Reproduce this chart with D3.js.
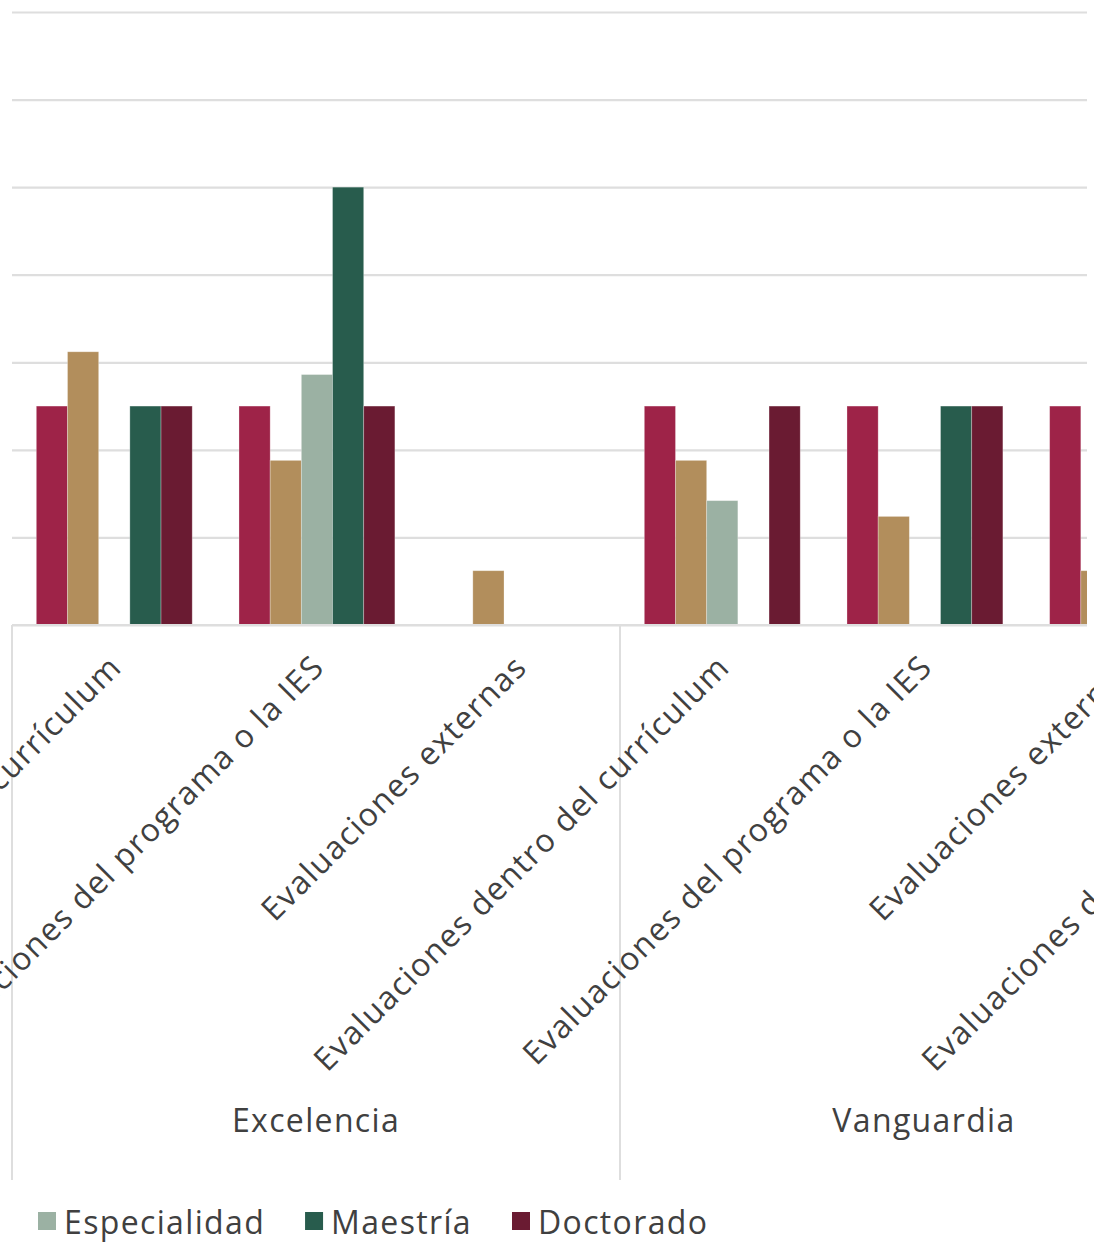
<!DOCTYPE html>
<html><head><meta charset="utf-8">
<script src="https://cdn.jsdelivr.net/npm/d3@7"></script>
<style>
body{margin:0;background:#fff}
svg{display:block}
text{font-family:"Open Sans",sans-serif;fill:#404040}
</style>
</head><body>
<svg id="chart" width="1094" height="1257"></svg>
<script>
// ---- data ----
const groups = ["Excelencia", "Vanguardia", ""];
const categories = ["Evaluaciones dentro del currículum", "Evaluaciones del programa o la IES", "Evaluaciones externas"];
const seriesNames = ["Serie 1", "Serie 2", "Especialidad", "Maestría", "Doctorado"];
const seriesColors = ["#9E2348", "#B28E5C", "#9BB1A3", "#285C4D", "#6A1B32"];
const legendSeries = ["Especialidad", "Maestría", "Doctorado"];
const yTicks = [0, 0.05, 0.10, 0.15, 0.20, 0.25, 0.30, 0.35];
// values in category order: Excelencia x3, Vanguardia x3, next group x3 (off-view)
const serie1       = [0.125, 0.125, 0,     0.125, 0.125, 0.125, null, null, null];
const serie2       = [0.156, 0.094, 0.031, 0.094, 0.062, 0.031, null, null, null];
const especialidad = [0,     0.143, 0,     0.071, 0,     null,  null, null, null];
const maestria     = [0.125, 0.25,  0,     0,     0.125, null,  null, null, null];
const doctorado    = [0.125, 0.125, 0,     0.125, 0.125, null,  null, null, null];
const seriesValues = [serie1, serie2, especialidad, maestria, doctorado];

// ---- layout ----
const W = 1094, H = 1257;
const plotL = 12, plotR = 1087, plotT = 12, plotB = 625;
const catStep = (620 - 12) / 3;
const svg = d3.select("#chart");
const FS = 32, LS = "1.35px";

const keys = [];
groups.forEach((g, gi) => categories.forEach((c, ci) => keys.push({g, gi, c, ci, key: gi + "|" + ci})));

const x0 = d3.scaleBand().domain(keys.map(k => k.key)).range([plotL, plotL + catStep * keys.length]).padding(0);
const x1 = d3.scaleBand().domain(seriesNames).range([0, x0.bandwidth()]).paddingInner(0).paddingOuter(0.75).align(0.52);
const y = d3.scaleLinear().domain([0, 0.35]).range([plotB, plotT]);

// gridlines
const grid = svg.append("g").attr("transform", `translate(${plotL},0)`)
  .call(d3.axisLeft(y).tickValues(yTicks).tickSize(-(plotR - plotL)).tickFormat(""));
grid.select(".domain").remove();
grid.selectAll(".tick line").attr("stroke", "#DEDEDE").attr("stroke-width", 2.2);

// clip
svg.append("clipPath").attr("id", "plotclip").append("rect")
  .attr("x", plotL).attr("y", 0).attr("width", plotR - plotL).attr("height", plotB + 2);

const barsG = svg.append("g").attr("clip-path", "url(#plotclip)");
keys.forEach((k, i) => {
  seriesNames.forEach((s, si) => {
    const v = seriesValues[si][i];
    if (v == null || v <= 0) return;
    barsG.append("rect")
      .attr("x", x0(k.key) + x1(s))
      .attr("y", y(v))
      .attr("width", x1.bandwidth())
      .attr("height", plotB - y(v))
      .attr("fill", seriesColors[si])
      .attr("stroke", "#ffffff").attr("stroke-opacity", 0.35).attr("stroke-width", 0.8);
  });
});

// baseline
svg.append("line").attr("x1", plotL).attr("x2", plotR).attr("y1", plotB).attr("y2", plotB)
  .attr("stroke", "#DEDEDE").attr("stroke-width", 2.2);

// group separators
const sepY2 = 1180;
for (let gi = 0; gi <= groups.length; gi++) {
  const xs = plotL + gi * catStep * categories.length;
  svg.append("line").attr("x1", xs).attr("x2", xs).attr("y1", plotB).attr("y2", sepY2)
    .attr("stroke", "#DEDEDE").attr("stroke-width", 2);
}

// category labels
keys.forEach(k => {
  const cx = x0(k.key) + x0.bandwidth() / 2;
  svg.append("text")
    .attr("transform", `translate(${cx + 10},${669}) rotate(-45)`)
    .attr("text-anchor", "end")
    .style("font-size", FS + "px").style("letter-spacing", LS)
    .text(k.c);
});

// group labels
groups.forEach((g, gi) => {
  if (!g) return;
  const cx = plotL + (gi + 0.5) * catStep * categories.length;
  svg.append("text").attr("x", cx).attr("y", 1132).attr("text-anchor", "middle")
    .style("font-size", FS + "px").style("letter-spacing", LS).text(g);
});

// legend
let lx = 38;
legendSeries.forEach(name => {
  const si = seriesNames.indexOf(name);
  svg.append("rect").attr("x", lx).attr("y", 1212).attr("width", 18).attr("height", 18).attr("fill", seriesColors[si]);
  const t = svg.append("text").attr("x", lx + 26).attr("y", 1234)
    .style("font-size", FS + "px").style("letter-spacing", LS).text(name);
  lx += 26 + t.node().getComputedTextLength() + 40;
});
</script>
</body></html>
